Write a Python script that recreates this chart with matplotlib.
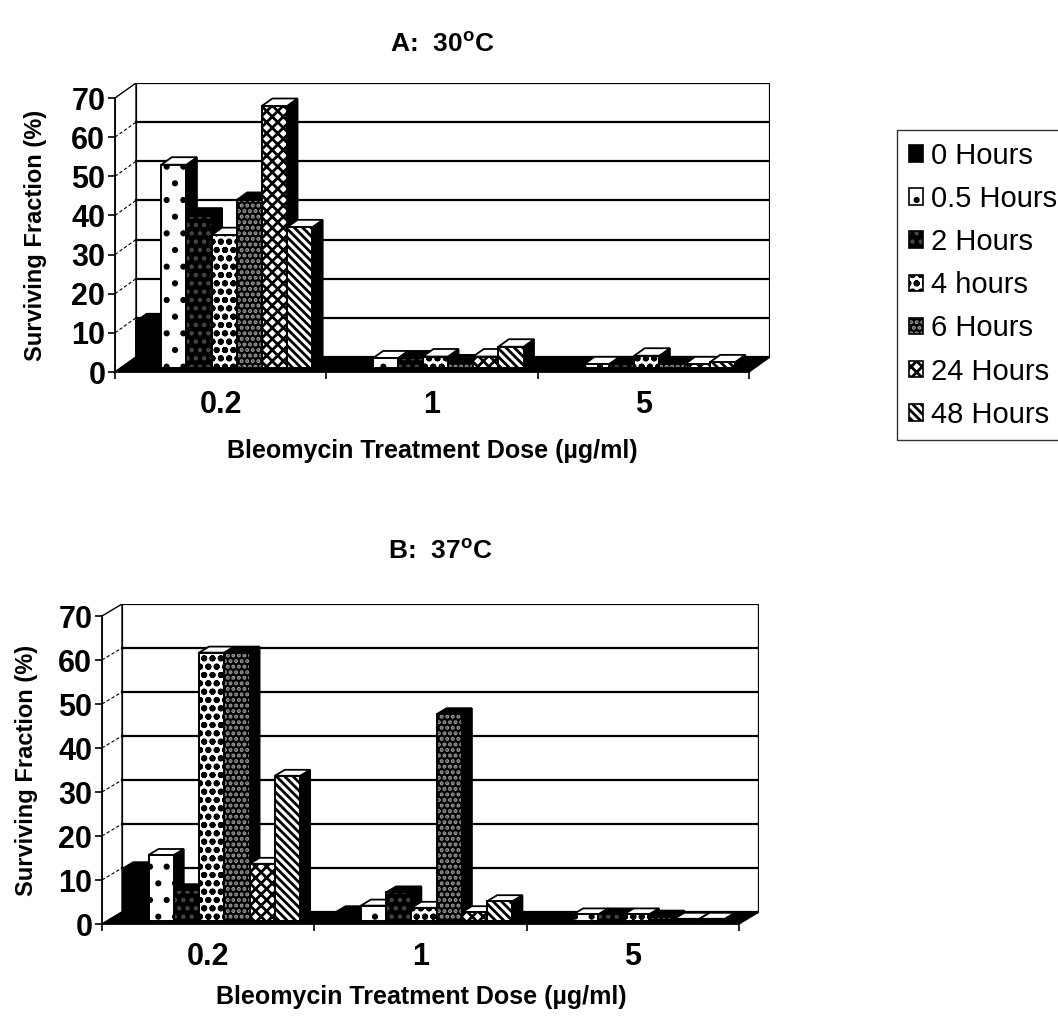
import matplotlib.pyplot as plt
from matplotlib.patches import Polygon, Rectangle
from matplotlib.legend_handler import HandlerTuple

plt.rcParams['font.family'] = ['Liberation Sans', 'DejaVu Sans']
plt.rcParams['hatch.linewidth'] = 2.0
plt.rcParams['mathtext.fontset'] = 'custom'
plt.rcParams['mathtext.bf'] = 'Liberation Sans:bold'
plt.rcParams['mathtext.rm'] = 'Liberation Sans'

# data (surviving fraction, %)
doses = ['0.2', '1', '5']
series = ['0 Hours', '0.5 Hours', '2 Hours', '4 hours', '6 Hours', '24 Hours', '48 Hours']
surv_30C = [[12, 0.5, 0.3],
            [52, 2.5, 1],
            [39, 2.5, 1],
            [34, 3, 3.2],
            [43, 1.5, 1],
            [67, 3, 1],
            [36, 5.5, 1.5]]
surv_37C = [[12, 2, 0.5],
            [15, 3.5, 1.5],
            [7, 6.5, 1.5],
            [61, 3, 1.5],
            [61, 47, 1],
            [13, 2, 0.5],
            [33, 4.5, 0.5]]
yticks = list(range(0, 71, 10))

# (face colour, hatch, hatch colour) for each series, black & white print look
styles = [('black', None, 'black'),
          ('white', '.', 'black'),
          ('black', '..', '#444444'),
          ('white', 'oo', 'black'),
          ('black', '...', '#9a9a9a'),
          ('white', 'xxx', 'black'),
          ('white', '\\\\\\\\', 'black')]

W, H = 1058, 1021
fig = plt.figure(figsize=(W / 100, H / 100), dpi=100)


def draw_panel(values, x0, y0, y70, xend, dx, dy):
    unit = (y0 - y70) / 70.0
    cat = (xend - x0) / 3.0
    ddx, ddy = dx / cat, dy / unit
    ax = fig.add_axes([x0 / W, 1 - y0 / H, (xend + dx - x0) / W, (y0 - y70 + dy) / H])
    ax.set_xlim(0, 3 + ddx)
    ax.set_ylim(0, 70 + ddy)

    # walls and floor
    ax.add_patch(Rectangle((ddx, ddy), 3, 70, facecolor='white', edgecolor='black', lw=1.6, zorder=0.5))
    ax.add_patch(Polygon([(0, 0), (ddx, ddy), (ddx, 70 + ddy), (0, 70)], closed=True,
                         facecolor='white', edgecolor='black', lw=1.0, zorder=0.5))
    for v in yticks[1:-1]:
        ax.plot([ddx, 3 + ddx], [v + ddy, v + ddy], color='black', lw=1.6, zorder=0.6)
        ax.plot([0, ddx], [v, v + ddy], color='black', lw=0.8, ls=(0, (3, 2)), zorder=0.6)
    ax.add_patch(Polygon([(0, 0), (3, 0), (3 + ddx, ddy), (ddx, ddy)], closed=True,
                         facecolor='black', edgecolor='black', lw=1, zorder=0.8))

    # 3-D style bars
    f0, f1 = 0.25, 0.75
    pitch = 0.119
    w = pitch
    ex, ey = (f1 - f0) * ddx, (f1 - f0) * ddy
    z = 2
    for c in range(len(doses)):
        for i, row in enumerate(values):
            v = row[c]
            face, hatch, hcol = styles[i]
            x = c + 0.1 + i * pitch
            fb = f0 * ddy
            ax.add_patch(Polygon([(x + w, fb), (x + w + ex, fb + ey), (x + w + ex, fb + v + ey), (x + w, fb + v)],
                                 closed=True, facecolor='black', edgecolor='black', lw=1.3, zorder=z))
            ax.add_patch(Polygon([(x, fb + v), (x + w, fb + v), (x + w + ex, fb + v + ey), (x + ex, fb + v + ey)],
                                 closed=True, facecolor=face, edgecolor='black', lw=1.3, zorder=z))
            ax.bar(x, v, width=w, bottom=fb, align='edge', color=face, hatch=hatch,
                   edgecolor=hcol, lw=0, zorder=z + 0.1)
            ax.bar(x, v, width=w, bottom=fb, align='edge', fill=False,
                   edgecolor='black', lw=1.4, zorder=z + 0.2)
            z += 0.5

    for s in ['top', 'right']:
        ax.spines[s].set_visible(False)
    ax.spines['left'].set_bounds(0, 70)
    ax.spines['bottom'].set_bounds(0, 3)
    ax.spines['left'].set_linewidth(1.3)
    ax.spines['bottom'].set_linewidth(1.3)
    ax.set_yticks(yticks)
    ax.set_yticklabels([str(t) for t in yticks], fontsize=22, fontweight='bold')
    ax.tick_params(axis='y', direction='out', length=5, width=1.2, pad=2)
    ax.set_xticks([0, 1, 2, 3])
    ax.set_xticklabels([])
    ax.set_xticks([0.5, 1.5, 2.5], minor=True)
    ax.set_xticklabels(doses, minor=True, fontsize=22, fontweight='bold')
    ax.tick_params(axis='x', which='major', direction='out', length=5, width=1.2)
    ax.tick_params(axis='x', which='minor', length=0, pad=13)
    ax.patch.set_visible(False)
    return ax


draw_panel(surv_30C, 115, 372, 98, 749, 21, 15)
draw_panel(surv_37C, 102, 924, 616, 739, 20, 12)

fig.text(442 / W, 1 - 44 / H, r'A:  30$^{\mathbf{o}}$C', ha='center', va='center', fontsize=19, fontweight='bold')
fig.text(440 / W, 1 - 551 / H, r'B:  37$^{\mathbf{o}}$C', ha='center', va='center', fontsize=19, fontweight='bold')
fig.text(432 / W, 1 - 451 / H, 'Bleomycin Treatment Dose (µg/ml)', ha='center', va='center',
         fontsize=18, fontweight='bold')
fig.text(421 / W, 1 - 997 / H, 'Bleomycin Treatment Dose (µg/ml)', ha='center', va='center',
         fontsize=18, fontweight='bold')
fig.text(36 / W, 1 - 235 / H, 'Surviving Fraction (%)', ha='center', va='center', rotation=90,
         fontsize=17, fontweight='bold')
fig.text(27 / W, 1 - 770 / H, 'Surviving Fraction (%)', ha='center', va='center', rotation=90,
         fontsize=17, fontweight='bold')

handles = []
for face, hatch, hcol in styles:
    handles.append((Rectangle((0, 0), 1, 1, facecolor=face, hatch=hatch, edgecolor=hcol, lw=0),
                    Rectangle((0, 0), 1, 1, fill=False, edgecolor='black', lw=1.2)))
leg = fig.legend(handles, series, handler_map={tuple: HandlerTuple(ndivide=1)},
                 loc='upper left', bbox_to_anchor=(897 / W, 1 - 130 / H), frameon=True, fancybox=False,
                 edgecolor='black', fontsize=21, handlelength=0.5, handleheight=0.5,
                 handletextpad=0.25, labelspacing=0.52, borderpad=0.4, borderaxespad=0)
leg.get_frame().set_linewidth(1)

fig.savefig('out.png', dpi=100)
